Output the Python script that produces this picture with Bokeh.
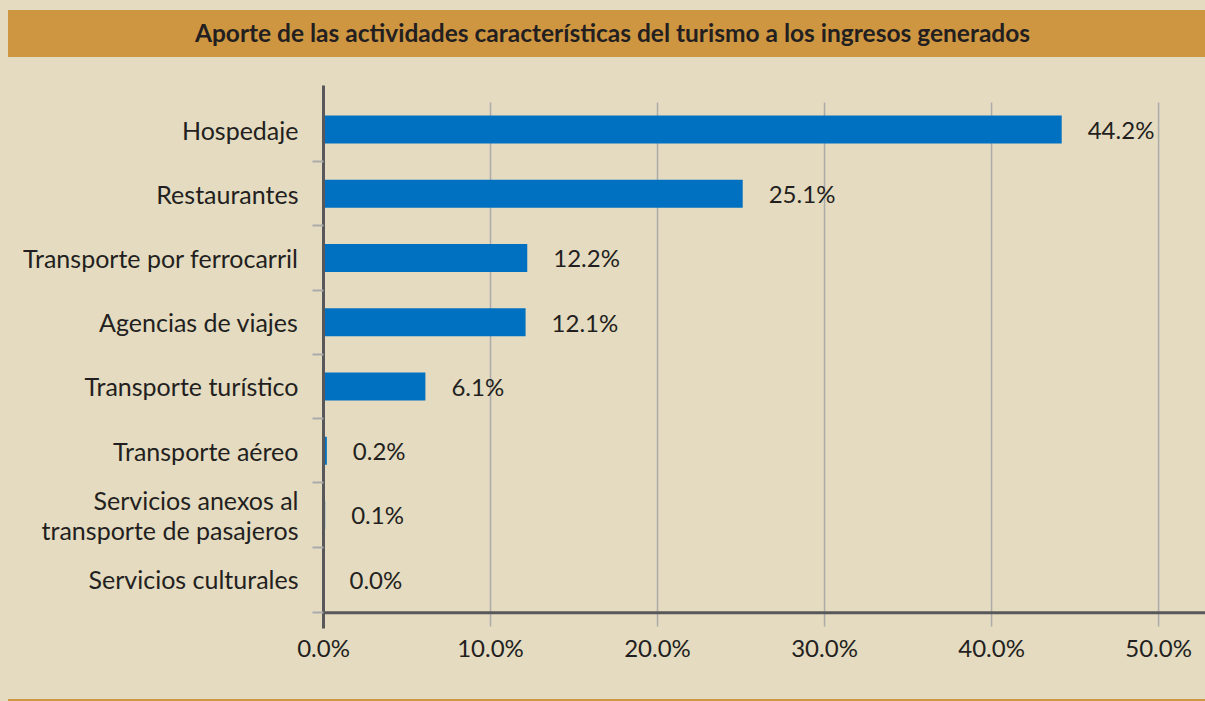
from bokeh.plotting import figure
from bokeh.models import (ColumnDataSource, Range1d, FixedTicker, PrintfTickFormatter,
                          Span, Div, GlobalInlineStyleSheet)
from bokeh.layouts import column
from bokeh.core.properties import value
from bokeh.embed import file_html
from bokeh.resources import INLINE

# ---- data ----
title_text = "Aporte de las actividades características del turismo a los ingresos generados"
categories = ["Hospedaje", "Restaurantes", "Transporte por ferrocarril", "Agencias de viajes",
              "Transporte turístico", "Transporte aéreo",
              "Servicios anexos al\ntransporte de pasajeros", "Servicios culturales"]
values = [44.2, 25.1, 12.2, 12.1, 6.1, 0.2, 0.1, 0.0]
x_ticks = [0, 10, 20, 30, 40, 50]

# ---- styles ----
BG = "#E4DBC0"
GOLD = "#CF9641"
BLUE = "#0070C0"
AXIS = "#58585A"
GRID = "#ABABAB"
TXT = "#231F20"
FONT = "Lato"

n = len(categories)
ypos = [n - 1 - i for i in range(n)]
labels = ["{:.1f}%".format(v) for v in values]
src = ColumnDataSource(dict(y=ypos, v=values, lab=labels))
grid_src = ColumnDataSource(dict(x=x_ticks[1:]))

p = figure(width=1205, height=642, output_backend="svg", toolbar_location=None,
           x_range=Range1d(0, 52.81), y_range=Range1d(-0.767, 7.685),
           min_border_left=323, min_border_right=0, min_border_top=28, min_border_bottom=71,
           background_fill_color=BG, border_fill_color=BG, outline_line_color=None)

# vertical gridlines (limited extent, as in the reference)
p.segment(x0="x", x1="x", y0=-0.735, y1=7.42, source=grid_src,
          line_color=GRID, line_width=1.5)

p.hbar(y="y", right="v", left=0, height=0.436, source=src, color=BLUE, line_color=None)
p.text(x="v", y="y", text="lab", source=src, x_offset=26, text_align="left",
       text_baseline="middle", text_font=value(FONT), text_font_size="24px", text_color=TXT)

# horizontal axis line
p.add_layout(Span(location=-0.522, dimension="width", line_color=AXIS, line_width=3))

# x axis
p.xaxis.ticker = FixedTicker(ticks=x_ticks)
p.xaxis.formatter = PrintfTickFormatter(format="%.1f%%")
p.xaxis.axis_line_color = None
p.xaxis.major_tick_line_color = None
p.xaxis.major_tick_out = 0
p.xaxis.major_tick_in = 0
p.xaxis.minor_tick_line_color = None
p.xaxis.major_label_standoff = 4
p.xaxis.major_label_text_font = FONT
p.xaxis.major_label_text_font_size = "24px"
p.xaxis.major_label_text_color = TXT

p.xgrid.grid_line_color = None
p.ygrid.grid_line_color = None

# y axis
p.yaxis.ticker = FixedTicker(ticks=ypos, minor_ticks=[-0.522] + [i + 0.5 for i in range(n - 1)])
p.yaxis.major_label_overrides = {y: c for y, c in zip(ypos, categories)}
p.yaxis.axis_line_color = AXIS
p.yaxis.axis_line_width = 3
p.yaxis.major_tick_line_color = None
p.yaxis.major_tick_out = 0
p.yaxis.major_tick_in = 0
p.yaxis.minor_tick_line_color = GRID
p.yaxis.minor_tick_line_width = 2
p.yaxis.minor_tick_out = 11
p.yaxis.minor_tick_in = 0
p.yaxis.major_label_standoff = 14
p.yaxis.major_label_text_font = FONT
p.yaxis.major_label_text_font_size = "25px"
p.yaxis.major_label_text_color = TXT
p.yaxis.major_label_text_line_height = 1.0

title_div = Div(text='<div style="padding-left:12px">' + title_text + '</div>',
                width=1197, height=47, margin=(10, 0, 0, 8),
                styles={"background-color": GOLD, "font-family": FONT, "font-weight": "bold",
                        "font-size": "24.5px", "color": TXT, "text-align": "center",
                        "line-height": "46px"})
bottom_div = Div(text="", width=1197, height=2, margin=(0, 0, 0, 8),
                 styles={"background-color": GOLD})

layout = column(title_div, p, bottom_div, spacing=0,
                stylesheets=[GlobalInlineStyleSheet(css="body { background-color: %s; }" % BG)])

open("out.html", "w").write(file_html(layout, INLINE))
